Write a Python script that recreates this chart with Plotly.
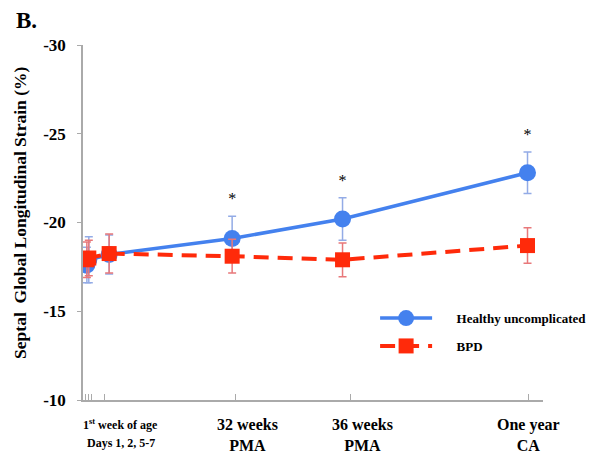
import plotly.graph_objects as go

# ---- data ----
timeline_x = [4, 6, 27, 154, 268, 459]          # relative timeline coordinate of each visit
tick_x = [3, 6, 9, 22, 157, 276, 460]            # tick marks on the time axis
healthy_mean = [-17.6, -17.9, -18.2, -19.1, -20.2, -22.8]
healthy_sd = [1.0, 1.3, 1.1, 1.25, 1.2, 1.17]
bpd_mean = [-17.9, -18.0, -18.25, -18.1, -17.9, -18.7]
bpd_sd = [1.0, 1.0, 1.1, 0.95, 0.95, 1.0]
significant = [False, False, False, True, True, True]
big_labels = [
    (170, "32 weeks<br>PMA"),
    (289, "36 weeks<br>PMA"),
    (460, "One year<br>CA"),
]
small_label_x = 39
small_label_lines = ["1<sup>st</sup> week of age", "Days 1, 2, 5-7"]
y_ticks = [-30, -25, -20, -15, -10]

BLUE = "#4481ee"
RED = "#ff2a0a"
FONT = "Liberation Serif"
PAD = "&nbsp;" * 6

fig = go.Figure()
fig.add_trace(go.Scatter(
    x=timeline_x, y=healthy_mean, mode="lines+markers",
    name=PAD + "<b>Healthy uncomplicated</b>",
    legendgroup="h",
    line=dict(color=BLUE, width=3.5),
    marker=dict(symbol="circle", size=17, color=BLUE),
    error_y=dict(type="data", array=healthy_sd, visible=True, color="#93abe6", thickness=1.5, width=4),
))
fig.add_trace(go.Scatter(
    x=timeline_x, y=bpd_mean, mode="lines+markers",
    name=PAD + "<b>BPD</b>",
    legendgroup="b",
    line=dict(color=RED, width=4, dash="15px,9px"),
    marker=dict(symbol="square", size=15, color=RED),
    error_y=dict(type="data", array=bpd_sd, visible=True, color="#e8787a", thickness=1.5, width=4),
))
sx = [x for x, s in zip(timeline_x, significant) if s]
sy = [m - sd - 0.45 for m, sd, s in zip(healthy_mean, healthy_sd, significant) if s]
fig.add_trace(go.Scatter(
    x=sx, y=sy, mode="text", text=["*"] * len(sx), textposition="top center",
    textfont=dict(family=FONT, size=16, color="#000000"), showlegend=False, hoverinfo="skip",
))

for x, txt in big_labels:
    fig.add_annotation(x=x, y=0, xref="x", yref="paper", yshift=-14, text=f"<b>{txt}</b>",
                       showarrow=False, yanchor="top", xanchor="center",
                       font=dict(family=FONT, size=16, color="black"))
for i, line in enumerate(small_label_lines):
    fig.add_annotation(x=small_label_x, y=0, xref="x", yref="paper", yshift=-15 - 19 * i,
                       text=f"<b>{line}</b>", showarrow=False, yanchor="top", xanchor="center",
                       font=dict(family=FONT, size=12, color="black"))

fig.add_annotation(x=-0.137, y=0.527, xref="paper", yref="paper", textangle=-90,
                   text="<b>Septal  Global Longitudinal Strain (%)</b>", showarrow=False,
                   xanchor="center", yanchor="middle",
                   font=dict(family=FONT, size=17.5, color="black"))
fig.add_annotation(x=-0.122, y=1.07, xref="paper", yref="paper", text="<b>B.</b>",
                   showarrow=False, xanchor="center", yanchor="middle",
                   font=dict(family=FONT, size=23, color="black"))

fig.update_layout(
    width=604, height=462,
    margin=dict(l=83, r=46, t=45, b=62),
    paper_bgcolor="white", plot_bgcolor="white",
    font=dict(family=FONT, color="black"),
    showlegend=True,
    legend=dict(x=0.635, y=0.273, xanchor="left", yanchor="top", bgcolor="rgba(0,0,0,0)",
                font=dict(family=FONT, size=13, color="black"), itemwidth=52,
                traceorder="grouped", tracegroupgap=8),
    xaxis=dict(range=[0, 475], showgrid=False, zeroline=False, showline=True,
               linecolor="#aaaaaa", linewidth=1.5, ticks="inside", ticklen=6,
               tickcolor="#aaaaaa", tickvals=tick_x, showticklabels=False),
    yaxis=dict(range=[-10, -30], autorange=False, showgrid=False, zeroline=False,
               showline=True, linecolor="#aaaaaa", linewidth=1.5, ticks="outside",
               ticklen=4, tickcolor="#aaaaaa", tickvals=y_ticks, ticklabelstandoff=8,
               ticktext=[f"<b>{v}</b>" for v in y_ticks],
               tickfont=dict(family=FONT, size=17, color="black")),
)
fig.write_html("out.html", config={"displayModeBar": False},
               post_script="document.body.style.margin='0px';")
